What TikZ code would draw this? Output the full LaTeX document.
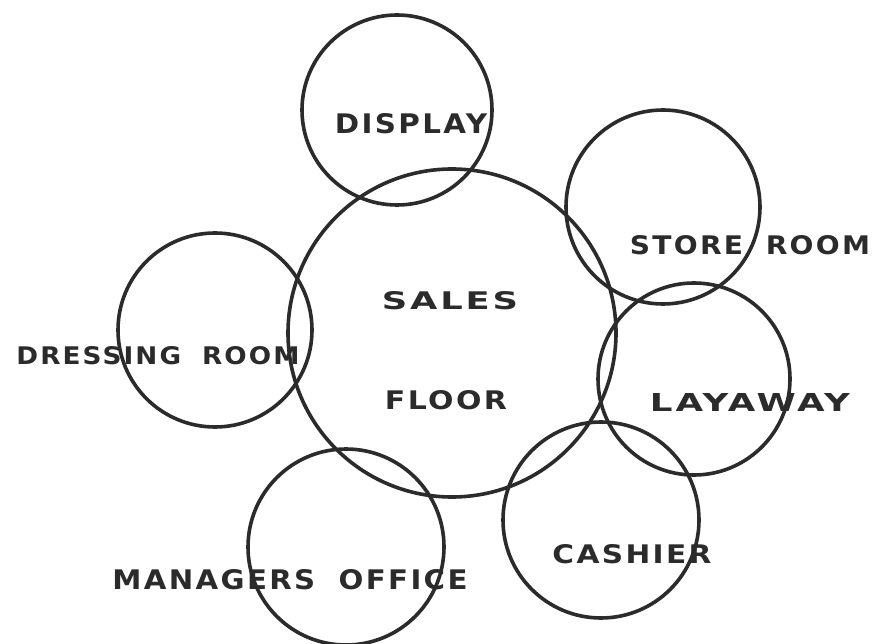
\documentclass[tikz,border=0pt]{standalone}
\usepackage{graphicx}
\usepackage{fontspec}
\setmainfont{DejaVu Sans}
\newfontfamily\hand[LetterSpace=8]{DejaVu Sans}
\definecolor{ink}{HTML}{2B2B2B}
\newcommand{\lab}[3]{\resizebox{#1pt}{#2pt}{\hand\bfseries #3}}
\newcommand{\wgap}{\hspace*{0.8em}}
\begin{document}
\begin{tikzpicture}[x=1pt,y=-1pt,
  zone/.style={circle,draw=ink,line width=3.6pt,inner sep=0pt},
  lbl/.style={text=ink,inner sep=0pt,anchor=center}]
\useasboundingbox (0,0) rectangle (873,644);
\fill[white] (0,0) rectangle (873,644);
\node[zone,minimum size=328pt] (sales) at (452,333) {};
\node[zone,minimum size=190pt] (display) at (397,110) {};
\node[zone,minimum size=194pt] (store) at (663,207) {};
\node[zone,minimum size=192pt] (layaway) at (694,379) {};
\node[zone,minimum size=196pt] (cashier) at (601,520) {};
\node[zone,minimum size=196pt] (manager) at (346,547) {};
\node[zone,minimum size=194pt] (dressing) at (215,330) {};
\node[lbl] (tdisplay) at (411,124) {\lab{152}{20}{DISPLAY}};
\node[lbl] (tstore) at (750,245) {\lab{240}{19}{STORE\wgap ROOM}};
\node[lbl] (tsales) at (450,301) {\lab{136}{18}{SALES}};
\node[lbl] (tfloor) at (446,400) {\lab{122}{19}{FLOOR}};
\node[lbl] (tdressing) at (158,356) {\lab{283}{18}{DRESSING\wgap ROOM}};
\node[lbl] (tlayaway) at (750,402) {\lab{200}{18}{LAYAWAY}};
\node[lbl] (tcashier) at (632,554) {\lab{159}{19}{CASHIER}};
\node[lbl] (tmanager) at (290,580) {\lab{355}{20}{MANAGERS\wgap OFFICE}};
\end{tikzpicture}
\end{document}
